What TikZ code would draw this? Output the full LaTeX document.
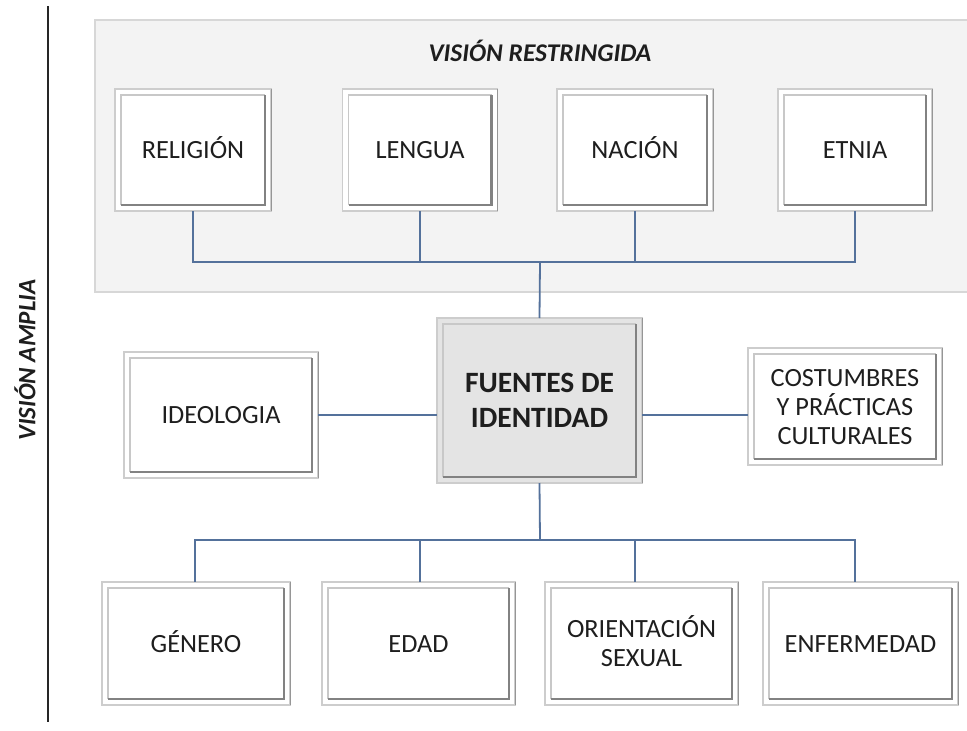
\documentclass[tikz,border=0pt]{standalone}
\usepackage{fontspec}
\setmainfont{Carlito}
\definecolor{conn}{RGB}{84,113,155}
\definecolor{txtc}{RGB}{30,30,30}
\definecolor{panelfill}{RGB}{243,243,243}
\definecolor{panelline}{RGB}{215,215,215}
\definecolor{outerc}{RGB}{205,205,205}
\definecolor{outerd}{RGB}{150,150,150}
\definecolor{innerl}{RGB}{200,200,200}
\definecolor{innerd}{RGB}{130,130,130}
\definecolor{cenfill}{RGB}{228,228,228}
\tikzset{
  conline/.style={draw=conn, line width=1.8pt},
  boxtext/.style={text=txtc, align=center, inner sep=0pt, outer sep=0pt,
    font=\fontsize{26.3}{29}\selectfont},
  centext/.style={boxtext, font=\bfseries\fontsize{29.5}{35}\selectfont},
}
\newcommand\up{\vphantom{Ó}}
\newcommand\dn{\vphantom{g}}
% #1 fill, #2 name, #3 cx, #4 cy, #5 w, #6 h, #7 text style, #8 text
\newcommand\mkbox[8][white]{%
  \begin{scope}[shift={(#3,#4)}]
    \fill[#1] (-#5/2,-#6/2) rectangle (#5/2,#6/2);
    \draw[outerc, line width=1.2pt] (-#5/2,-#6/2) rectangle (#5/2,#6/2);
    \draw[outerd, line width=1pt] (#5/2,-#6/2) -- (#5/2,#6/2);
    \draw[innerl, line width=1.4pt] (-#5/2+6,#6/2-6) -- (-#5/2+6,-#6/2+6) -- (#5/2-6,-#6/2+6);
    \draw[innerd, line width=2.2pt] (#5/2-6,-#6/2+6) -- (#5/2-6,#6/2-6) -- (-#5/2+6,#6/2-6);
  \end{scope}
  \node[#7, minimum width=#5, minimum height=#6] (#2) at (#3,#4) {#8};
}
\begin{document}
\begin{tikzpicture}[x=1pt, y=-1pt]
\useasboundingbox (0,0) rectangle (967,731);
\fill[white] (0,0) rectangle (967,731);
% left axis
\draw[black!85, line width=1.6pt] (48,6) -- (48,722);
\node[rotate=90, text=txtc, font=\bfseries\itshape\fontsize{25}{28}\selectfont] (amp) at (25,360) {VISIÓN AMPLIA};
% restricted panel
\draw[panelline, fill=panelfill, line width=1.5pt] (95,20) rectangle (975,292);
\node[text=txtc, font=\bfseries\itshape\fontsize{25.5}{28}\selectfont] (res) at (540,51) {VISIÓN RESTRINGIDA};
% boxes
\mkbox{rel}{193}{150}{156}{122}{boxtext}{\up RELIGIÓN\dn}
\mkbox{len}{420}{150}{155}{122}{boxtext}{\up LENGUA\dn}
\mkbox{nac}{635}{150}{156}{122}{boxtext}{\up NACIÓN\dn}
\mkbox{etn}{855}{150}{154}{122}{boxtext}{\up ETNIA\dn}
\mkbox{ide}{221}{415}{194}{126}{boxtext}{\up IDEOLOGIA\dn}
\mkbox[cenfill]{cen}{539.5}{400.5}{205}{165}{centext}{\up FUENTES DE\\IDENTIDAD\dn}
\mkbox{cos}{845}{406.5}{194}{117}{boxtext}{\up COSTUMBRES\\Y PRÁCTICAS\\CULTURALES\dn}
\mkbox{gen}{196}{643.5}{188}{123}{boxtext}{\up GÉNERO\dn}
\mkbox{eda}{418.5}{643.5}{193}{123}{boxtext}{\up EDAD\dn}
\mkbox{ori}{641.5}{643.5}{193}{123}{boxtext}{\up ORIENTACIÓN\\SEXUAL\dn}
\mkbox{enf}{860.5}{643.5}{195}{123}{boxtext}{\up ENFERMEDAD\dn}
% connectors top
\coordinate (tj) at (540,262);
\draw[conline] (rel.south) |- (tj) -| (etn.south);
\draw[conline] (len.south) -- (len.south |- tj);
\draw[conline] (nac.south) -- (nac.south |- tj);
\draw[conline] (tj) -- (cen.north);
% sides
\draw[conline] (ide.east) -- (ide.east -| cen.west);
\draw[conline] (cen.east |- ide.east) -- (cos.west |- ide.east);
% bottom
\coordinate (bj) at (540,540);
\draw[conline] (cen.south) -- (bj);
\draw[conline] ([xshift=-1]gen.north) |- (bj) -| ([xshift=-5.5]enf.north);
\draw[conline] ([xshift=1.5]eda.north) -- ([xshift=1.5]eda.north |- bj);
\draw[conline] ([xshift=-6.5]ori.north) -- ([xshift=-6.5]ori.north |- bj);
\end{tikzpicture}
\end{document}
